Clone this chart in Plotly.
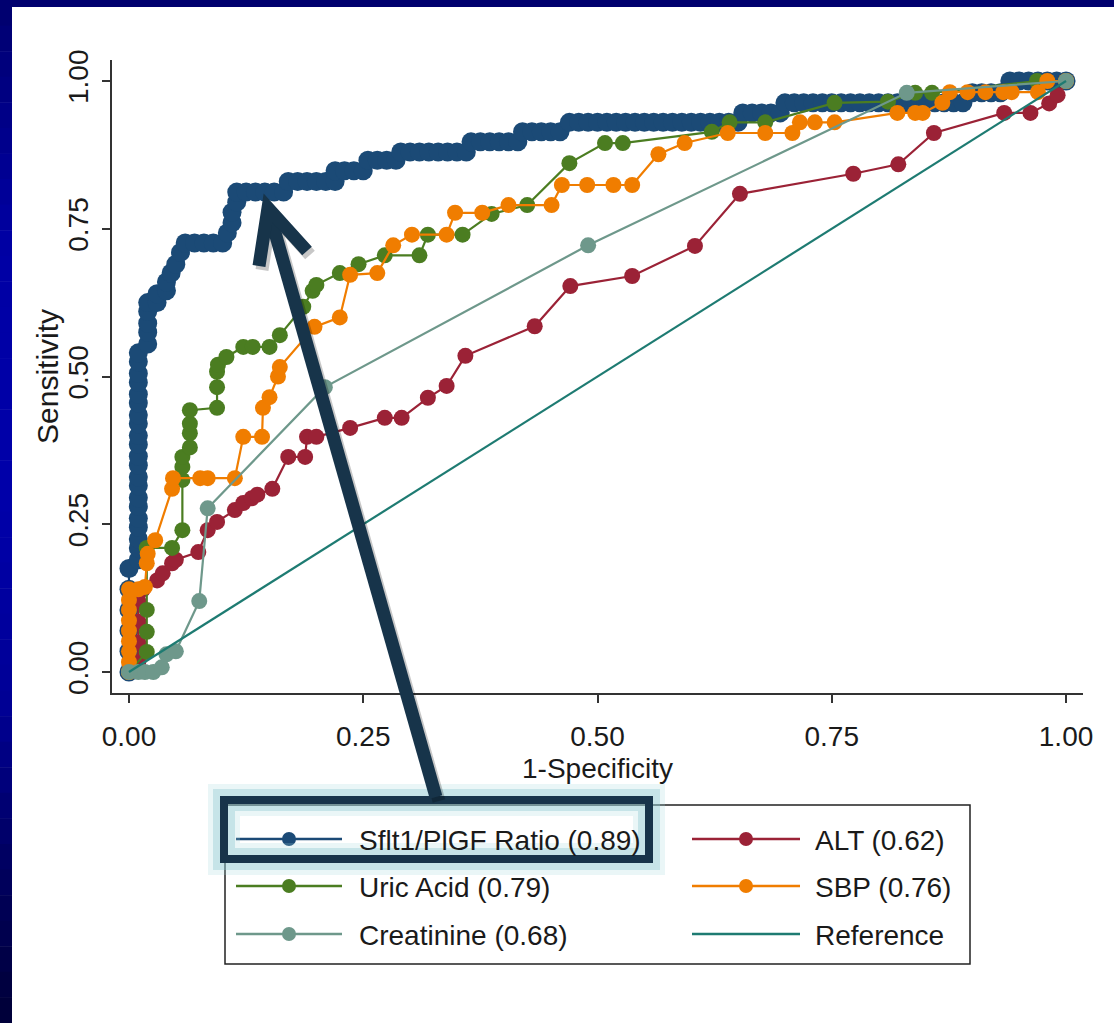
import plotly.graph_objects as go

# ---------------- data ----------------
sflt1_roc = [
    (0, 0), (0, 0.035), (0, 0.07), (0, 0.105), (0, 0.14), (0, 0.175),
    (0.01, 0.19), (0.01, 0.21), (0.01, 0.225), (0.01, 0.245), (0.01, 0.26), (0.01, 0.28),
    (0.01, 0.295), (0.01, 0.315), (0.01, 0.33), (0.01, 0.35), (0.01, 0.365), (0.01, 0.385),
    (0.01, 0.40), (0.01, 0.42), (0.01, 0.435), (0.01, 0.455), (0.01, 0.47), (0.01, 0.49),
    (0.01, 0.505), (0.01, 0.525), (0.01, 0.54),
    (0.02, 0.555), (0.02, 0.575), (0.02, 0.59), (0.02, 0.61), (0.02, 0.625),
    (0.03, 0.625), (0.03, 0.64),
    (0.04, 0.645), (0.04, 0.66), (0.045, 0.675), (0.05, 0.69), (0.055, 0.71), (0.06, 0.726),
    (0.07, 0.726), (0.08, 0.726), (0.09, 0.726), (0.10, 0.726),
    (0.105, 0.743), (0.11, 0.76), (0.11, 0.778), (0.115, 0.795), (0.115, 0.812),
    (0.125, 0.812), (0.135, 0.812), (0.145, 0.812), (0.155, 0.812), (0.165, 0.812),
    (0.17, 0.83), (0.18, 0.83), (0.19, 0.83), (0.20, 0.83), (0.21, 0.83), (0.22, 0.83),
    (0.22, 0.848), (0.23, 0.848), (0.24, 0.848), (0.25, 0.848),
    (0.255, 0.866), (0.265, 0.866), (0.275, 0.866), (0.285, 0.866),
    (0.29, 0.88), (0.30, 0.88), (0.31, 0.88), (0.32, 0.88), (0.33, 0.88), (0.34, 0.88),
    (0.35, 0.88), (0.36, 0.88),
    (0.365, 0.897), (0.375, 0.897), (0.385, 0.897), (0.395, 0.897), (0.405, 0.897), (0.415, 0.897),
    (0.42, 0.914), (0.43, 0.914), (0.44, 0.914), (0.45, 0.914), (0.46, 0.914),
    (0.47, 0.93), (0.48, 0.93), (0.49, 0.93), (0.50, 0.93), (0.51, 0.93), (0.52, 0.93),
    (0.53, 0.93), (0.54, 0.93), (0.55, 0.93), (0.56, 0.93), (0.57, 0.93), (0.58, 0.93),
    (0.59, 0.93), (0.60, 0.93), (0.61, 0.93), (0.62, 0.93), (0.63, 0.93), (0.64, 0.93), (0.65, 0.93),
    (0.655, 0.946), (0.665, 0.946), (0.675, 0.946), (0.685, 0.946), (0.695, 0.946),
    (0.70, 0.963), (0.71, 0.963), (0.72, 0.963), (0.73, 0.963), (0.74, 0.963), (0.75, 0.963),
    (0.76, 0.963), (0.77, 0.963), (0.78, 0.963), (0.79, 0.963), (0.80, 0.963), (0.81, 0.963),
    (0.82, 0.963), (0.83, 0.963), (0.84, 0.963), (0.85, 0.963), (0.86, 0.963), (0.87, 0.963),
    (0.88, 0.963), (0.89, 0.963),
    (0.90, 0.98), (0.91, 0.98), (0.92, 0.98), (0.93, 0.98),
    (0.94, 1.0), (0.95, 1.0), (0.96, 1.0), (0.97, 1.0), (0.98, 1.0), (0.99, 1.0), (1.0, 1.0),
]

alt_roc = [
    (0, 0), (0.01, 0.017), (0.01, 0.05), (0.01, 0.085), (0.01, 0.12), (0.015, 0.14),
    (0.03, 0.155), (0.036, 0.167), (0.046, 0.184), (0.05, 0.19), (0.074, 0.203),
    (0.084, 0.24), (0.094, 0.254), (0.113, 0.274), (0.122, 0.286), (0.131, 0.294),
    (0.137, 0.30), (0.153, 0.31), (0.17, 0.364), (0.188, 0.364), (0.19, 0.398),
    (0.20, 0.398), (0.236, 0.413), (0.273, 0.43), (0.291, 0.43), (0.319, 0.464),
    (0.339, 0.484), (0.359, 0.535), (0.433, 0.585), (0.471, 0.653), (0.537, 0.67),
    (0.604, 0.721), (0.652, 0.809), (0.773, 0.843), (0.821, 0.859), (0.859, 0.912),
    (0.934, 0.946), (0.962, 0.946), (0.982, 0.962), (0.991, 0.976), (1.0, 1.0),
]

uric_roc = [
    (0, 0), (0.019, 0.034), (0.019, 0.068), (0.019, 0.105), (0.019, 0.21), (0.046, 0.21),
    (0.057, 0.24), (0.057, 0.325), (0.057, 0.347), (0.057, 0.364), (0.065, 0.38),
    (0.065, 0.404), (0.065, 0.42), (0.065, 0.443), (0.094, 0.447), (0.094, 0.482),
    (0.094, 0.508), (0.095, 0.52), (0.104, 0.533), (0.122, 0.55), (0.132, 0.55),
    (0.15, 0.55), (0.161, 0.57), (0.186, 0.618), (0.196, 0.645), (0.20, 0.655),
    (0.225, 0.675), (0.245, 0.69), (0.273, 0.705), (0.31, 0.705), (0.319, 0.74),
    (0.356, 0.74), (0.387, 0.775), (0.425, 0.79), (0.47, 0.861), (0.508, 0.895),
    (0.527, 0.895), (0.622, 0.914), (0.641, 0.93), (0.679, 0.93), (0.753, 0.963),
    (0.81, 0.965), (0.839, 0.98), (0.857, 0.98), (0.969, 1.0), (1.0, 1.0),
]

sbp_roc = [
    (0, 0), (0, 0.017), (0, 0.035), (0, 0.052), (0, 0.07), (0, 0.087), (0, 0.105),
    (0, 0.122), (0, 0.14), (0.01, 0.14), (0.017, 0.144), (0.019, 0.184), (0.02, 0.20),
    (0.028, 0.223), (0.046, 0.31), (0.047, 0.328), (0.076, 0.328), (0.084, 0.328),
    (0.113, 0.328), (0.122, 0.398), (0.142, 0.398), (0.143, 0.447), (0.15, 0.465),
    (0.159, 0.50), (0.161, 0.516), (0.198, 0.584), (0.225, 0.60), (0.236, 0.672),
    (0.265, 0.675), (0.282, 0.722), (0.302, 0.74), (0.339, 0.74), (0.348, 0.777),
    (0.377, 0.777), (0.405, 0.79), (0.451, 0.79), (0.462, 0.824), (0.489, 0.824),
    (0.517, 0.824), (0.537, 0.824), (0.565, 0.876), (0.593, 0.895), (0.639, 0.912),
    (0.679, 0.912), (0.708, 0.912), (0.716, 0.93), (0.732, 0.93), (0.753, 0.93),
    (0.82, 0.946), (0.839, 0.946), (0.847, 0.946), (0.868, 0.963), (0.876, 0.981),
    (0.895, 0.981), (0.914, 0.981), (0.933, 0.981), (0.942, 0.981), (0.97, 0.981),
    (0.98, 1.0), (1.0, 1.0),
]

creat_roc = [
    (0, 0), (0.01, 0), (0.017, 0), (0.026, 0), (0.035, 0.008), (0.04, 0.03),
    (0.05, 0.035), (0.075, 0.12), (0.084, 0.277), (0.209, 0.482), (0.49, 0.722),
    (0.83, 0.98), (1.0, 1.0),
]

ref_x = [0, 1]
ref_y = [0, 1]

tick_vals = [0, 0.25, 0.5, 0.75, 1.0]
tick_text = ["0.00", "0.25", "0.50", "0.75", "1.00"]

legend_names = ["Sflt1/PlGF Ratio (0.89)", "ALT (0.62)", "Uric Acid (0.79)",
                "SBP (0.76)", "Creatinine (0.68)", "Reference"]

# ---------------- styles ----------------
C_NAVY = "#1b4a76"
C_ALT = "#9b2236"
C_URIC = "#4b7d21"
C_SBP = "#f07d00"
C_CREAT = "#6e988b"
C_REF = "#1e7b72"
C_ARROW = "#17344a"
FONT = "Liberation Sans, Arial, sans-serif"
TXT = "#1a1a1a"

fig = go.Figure()

series = [
    (sflt1_roc, legend_names[0], C_NAVY, 19),
    (alt_roc, legend_names[1], C_ALT, 16),
    (uric_roc, legend_names[2], C_URIC, 16),
    (sbp_roc, legend_names[3], C_SBP, 16),
    (creat_roc, legend_names[4], C_CREAT, 16),
]
for pts, name, col, ms in series:
    xs = [p[0] for p in pts]
    ys = [p[1] for p in pts]
    fig.add_trace(go.Scatter(x=xs, y=ys, name=name, mode="lines+markers",
                             line=dict(color=col, width=2.2),
                             marker=dict(color=col, size=ms),
                             showlegend=False))
fig.add_trace(go.Scatter(x=ref_x, y=ref_y, name=legend_names[5], mode="lines",
                         line=dict(color=C_REF, width=2.2), showlegend=False))

# ---------------- layout geometry (pixels -> paper) ----------------
W_FIG, H_FIG = 1114, 1023
L, R, T, B = 112, 1083, 60, 693
PW, PH = R - L, B - T


def px(x):
    return (x - L) / PW


def py(y):
    return (B - y) / PH


shapes = []

# slide frame: navy top band and gradient left band
shapes.append(dict(type="rect", xref="paper", yref="paper", x0=px(0), x1=px(W_FIG),
                   y0=py(0), y1=py(7), fillcolor="#00006e", line=dict(width=0), layer="below"))
stops = [(0, 110), (250, 165), (500, 170), (700, 150), (850, 100), (1023, 55)]
n_seg = 40
for i in range(n_seg):
    y0p = i * H_FIG / n_seg
    y1p = (i + 1) * H_FIG / n_seg
    ym = (y0p + y1p) / 2
    b = stops[-1][1]
    for j in range(len(stops) - 1):
        if stops[j][0] <= ym <= stops[j + 1][0]:
            t = (ym - stops[j][0]) / (stops[j + 1][0] - stops[j][0])
            b = stops[j][1] + t * (stops[j + 1][1] - stops[j][1])
            break
    shapes.append(dict(type="rect", xref="paper", yref="paper", x0=px(0), x1=px(12),
                       y0=py(y0p), y1=py(y1p + 0.5), fillcolor=f"rgb(0,0,{int(b)})",
                       line=dict(width=0), layer="below"))

annotations = []

# axis titles
annotations.append(dict(xref="paper", yref="paper", x=px(47), y=py(377), textangle=-90,
                        xanchor="center", yanchor="middle", showarrow=False,
                        text="Sensitivity", font=dict(family=FONT, size=30, color=TXT)))
annotations.append(dict(xref="paper", yref="paper", x=px(597), y=py(768),
                        xanchor="center", yanchor="middle", showarrow=False,
                        text="1-Specificity", font=dict(family=FONT, size=28, color=TXT)))

# manual legend
shapes.append(dict(type="rect", xref="paper", yref="paper", x0=px(225), x1=px(970),
                   y0=py(805), y1=py(964), line=dict(color="#222", width=1.5),
                   fillcolor="rgba(0,0,0,0)"))
legend_cols = [(236, 342, 289, 360), (692, 800, 746, 816)]
legend_rows = [839, 886, 934]
legend_colors = [C_NAVY, C_ALT, C_URIC, C_SBP, C_CREAT, C_REF]
for k, name in enumerate(legend_names):
    r, c = divmod(k, 2)
    lx0, lx1, mx, tx = legend_cols[c]
    yy = legend_rows[r]
    col = legend_colors[k]
    shapes.append(dict(type="line", xref="paper", yref="paper", x0=px(lx0), x1=px(lx1),
                       y0=py(yy), y1=py(yy), line=dict(color=col, width=2.5)))
    if k < 5:
        shapes.append(dict(type="circle", xref="paper", yref="paper",
                           x0=px(mx - 7), x1=px(mx + 7), y0=py(yy - 7), y1=py(yy + 7),
                           fillcolor=col, line=dict(color=col, width=0)))
    annotations.append(dict(xref="paper", yref="paper", x=px(tx - 3), y=py(yy + 1),
                            xanchor="left", yanchor="middle", showarrow=False,
                            text=name, font=dict(family=FONT, size=28, color=TXT)))

# highlight box around first legend entry (with glow)
for w, c in [(32, "rgba(160,212,218,0.22)"), (22, "rgba(140,200,208,0.38)")]:
    shapes.append(dict(type="rect", xref="paper", yref="paper", x0=px(224), x1=px(649),
                       y0=py(800), y1=py(859), line=dict(color=c, width=w)))
shapes.append(dict(type="rect", xref="paper", yref="paper", x0=px(224), x1=px(649),
                   y0=py(800), y1=py(859), line=dict(color=C_ARROW, width=8)))

# big arrow pointing at the Sflt1 curve
tail = (436, 797)
tip = (268, 208)
arm_l = (259, 266)
arm_r = (307, 251)


def path(pts):
    return "M " + " L ".join(f"{px(a):.5f},{py(b):.5f}" for a, b in pts)


for off, col in [((3, 4), "rgba(0,0,0,0.22)"), ((0, 0), C_ARROW)]:
    dx, dy = off
    shapes.append(dict(type="path", xref="paper", yref="paper",
                       path=path([(tail[0] + dx, tail[1] + dy), (tip[0] + dx, tip[1] + dy)]),
                       line=dict(color=col, width=13)))
    shapes.append(dict(type="path", xref="paper", yref="paper",
                       path=path([(arm_l[0] + dx, arm_l[1] + dy), (tip[0] + dx, tip[1] + dy),
                                  (arm_r[0] + dx, arm_r[1] + dy)]),
                       line=dict(color=col, width=13)))

axis_common = dict(
    tickvals=tick_vals, ticktext=tick_text, ticks="outside", ticklen=8, tickwidth=1.5,
    tickcolor="#333", showline=True, linewidth=1.5, linecolor="#333", showgrid=False,
    zeroline=False, mirror=False, tickfont=dict(family=FONT, size=28, color=TXT),
)

fig.update_layout(
    width=W_FIG, height=H_FIG, autosize=False,
    margin=dict(l=L, r=W_FIG - R, t=T, b=H_FIG - B, pad=0),
    paper_bgcolor="white", plot_bgcolor="white",
    xaxis=dict(range=[-0.0181, 1.0181], ticklabelstandoff=10, **axis_common),
    yaxis=dict(range=[-0.0355, 1.0355], tickangle=-90, ticklabelstandoff=3, **axis_common),
    shapes=shapes, annotations=annotations, showlegend=False,
)

fig.write_html("out.html", config={"displayModeBar": False})
